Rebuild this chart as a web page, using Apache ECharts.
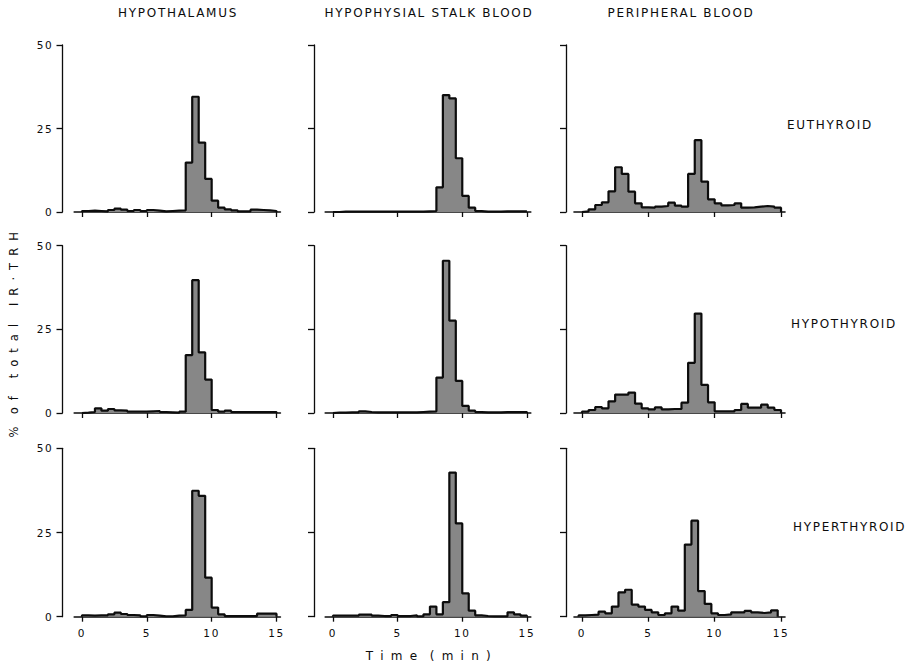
<!DOCTYPE html>
<html>
<head>
<meta charset="utf-8">
<script src="https://cdn.jsdelivr.net/npm/echarts@6/dist/echarts.min.js"></script>
<style>
  html, body { margin: 0; padding: 0; background: #ffffff; }
  #chart { width: 906px; height: 664px; }
  /* wide tracking for every label of the figure */
  #chart svg text { letter-spacing: 1.7px; }
</style>
</head>
<body>
<div id="chart"></div>
<script>
// Column and row headings
const columnTitles = ['HYPOTHALAMUS', 'HYPOPHYSIAL STALK BLOOD', 'PERIPHERAL BLOOD'];
const rowTitles = ['EUTHYROID', 'HYPOTHYROID', 'HYPERTHYROID'];

// Axis ticks
const timeTicks = [0, 5, 10, 15];
const percentTicks = [0, 25, 50];

// Elution profiles: % of total IR-TRH per 0.5-min fraction, 0 to 15 min
const hypothalamusEu   = [0.3, 0.4, 0.3, 0.2, 0.6, 1.0, 0.7, 0.3, 0.6, 0.3, 0.6, 0.4, 0.2, 0.3, 0.4, 0.5, 14.8, 34.5, 20.8, 9.9, 3.4, 1.3, 0.8, 0.5, 0.2, 0.2, 0.7, 0.6, 0.5, 0.3];
const stalkBloodEu     = [0.0, 0.1, 0.1, 0.1, 0.1, 0.1, 0.1, 0.1, 0.1, 0.1, 0.1, 0.1, 0.1, 0.1, 0.2, 0.3, 7.4, 35.0, 34.0, 16.1, 4.8, 1.3, 0.3, 0.1, 0.1, 0.1, 0.2, 0.2, 0.2, 0.2];
const peripheralEu     = [0.2, 0.8, 2.1, 2.9, 6.2, 13.4, 11.4, 6.1, 2.6, 1.4, 1.3, 1.6, 1.8, 2.8, 1.9, 1.6, 11.4, 21.5, 9.1, 3.8, 2.6, 2.0, 2.1, 2.6, 1.3, 1.4, 1.6, 1.8, 1.6, 1.3];

const hypothalamusHypo = [0.1, 0.3, 1.4, 0.7, 1.2, 0.8, 0.7, 0.4, 0.4, 0.4, 0.5, 0.6, 0.3, 0.2, 0.1, 0.4, 17.3, 39.7, 18.1, 10.0, 0.9, 0.4, 0.7, 0.3, 0.3, 0.3, 0.3, 0.3, 0.3, 0.3];
const stalkBloodHypo   = [0.1, 0.1, 0.2, 0.2, 0.5, 0.3, 0.2, 0.2, 0.2, 0.2, 0.2, 0.2, 0.2, 0.3, 0.4, 0.5, 10.6, 45.5, 27.6, 9.6, 2.1, 0.7, 0.3, 0.2, 0.2, 0.2, 0.3, 0.3, 0.3, 0.3];
const peripheralHypo   = [0.4, 0.9, 1.8, 1.4, 3.5, 5.5, 5.5, 6.1, 2.8, 1.4, 1.1, 1.7, 1.1, 1.2, 1.2, 3.1, 15.0, 29.7, 8.4, 3.2, 0.5, 0.5, 0.5, 0.9, 2.7, 1.6, 1.6, 2.5, 1.6, 0.9];

const hypothalamusHyper = [0.4, 0.3, 0.4, 0.4, 0.7, 1.2, 0.8, 0.5, 0.4, 0.1, 0.5, 0.3, 0.1, 0.1, 0.3, 0.4, 2.0, 37.4, 35.9, 11.6, 2.7, 0.7, 0.2, 0.2, 0.2, 0.2, 0.2, 0.9, 0.9, 0.9];
const stalkBloodHyper   = [0.3, 0.3, 0.3, 0.3, 0.6, 0.6, 0.3, 0.2, 0.2, 0.5, 0.2, 0.2, 0.4, 0.1, 0.7, 3.0, 0.7, 4.3, 42.8, 27.7, 6.9, 1.8, 0.4, 0.2, 0.1, 0.1, 0.1, 1.3, 0.7, 0.3];
const peripheralHyper   = [0.4, 0.5, 0.6, 1.5, 1.0, 3.0, 7.2, 8.0, 3.6, 3.0, 2.0, 1.3, 0.5, 1.0, 3.0, 1.8, 21.4, 28.5, 7.6, 3.8, 1.0, 0.5, 0.7, 1.3, 1.3, 1.7, 1.3, 1.1, 1.3, 1.9];

// Fraction width (min) and where the first fraction begins in each panel
const binWidth = 0.5;
const binStart = [
  [0, 0, 0],
  [0, 0, 0],
  [0, 0, -0.25]
];

const panels = [
  [hypothalamusEu, stalkBloodEu, peripheralEu],
  [hypothalamusHypo, stalkBloodHypo, peripheralHypo],
  [hypothalamusHyper, stalkBloodHyper, peripheralHyper]
];

// Panel geometry (px)
const colBox = [
  { left: 74.2, width: 206.2, axisX: 62.5 },
  { left: 325.2, width: 205.6, axisX: 314 },
  { left: 574.0, width: 211.0, axisX: 566 }
];
const rowBox = [
  { top: 45.0, height: 167.0 },
  { top: 245.7, height: 167.3 },
  { top: 448.3, height: 168.4 }
];

const ink = '#0c0c0c';
const barFill = '#878787';
const fontFamily = '"DejaVu Sans", "Liberation Sans", sans-serif';

// Outline of a histogram as step points: rise at the first edge, drop at the last
function histogramPoints(values, start) {
  const pts = [[start, 0]];
  values.forEach((v, i) => pts.push([start + i * binWidth, v]));
  const end = start + values.length * binWidth;
  pts.push([end, values[values.length - 1]]);
  pts.push([end, 0]);
  return pts;
}

const grid = [], xAxis = [], yAxis = [], series = [];
for (let r = 0; r < 3; r++) {
  for (let c = 0; c < 3; c++) {
    const k = r * 3 + c;
    const cb = colBox[c], rb = rowBox[r];
    grid.push({ left: cb.left, top: rb.top, width: cb.width, height: rb.height, containLabel: false });
    xAxis.push({
      type: 'value', gridIndex: k, min: -0.6, max: 15.3,
      axisLine: { show: true, onZero: false, lineStyle: { color: ink, width: 1.6 } },
      axisTick: { show: true, customValues: timeTicks, length: 5, lineStyle: { color: ink, width: 1.3 } },
      axisLabel: {
        show: r === 2, customValues: timeTicks, margin: 11,
        color: ink, fontSize: 10.5, fontFamily: fontFamily
      },
      splitLine: { show: false }
    });
    yAxis.push({
      type: 'value', gridIndex: k, min: percentTicks[0], max: percentTicks[2], interval: 25,
      offset: cb.left - cb.axisX,
      axisLine: { show: true, onZero: false, lineStyle: { color: ink, width: 1.3 } },
      axisTick: { show: true, length: 6, lineStyle: { color: ink, width: 1.3 } },
      axisLabel: { show: c === 0, margin: 9, color: ink, fontSize: 10.5, fontFamily: fontFamily },
      splitLine: { show: false }
    });
    series.push({
      type: 'line', xAxisIndex: k, yAxisIndex: k,
      step: 'end', symbol: 'none', showSymbol: false,
      data: histogramPoints(panels[r][c], binStart[r][c]),
      lineStyle: { color: ink, width: 2.2 },
      areaStyle: { color: barFill, opacity: 1 },
      silent: true, animation: false
    });
  }
}

const colCenters = [178, 429, 681];
const rowLabelPos = [{ x: 787, y: 125 }, { x: 791, y: 324 }, { x: 793, y: 527 }];

const graphic = [];
columnTitles.forEach((t, i) => graphic.push({
  type: 'text', x: colCenters[i], y: 13,
  style: { text: t, fill: ink, font: '12px ' + fontFamily, textAlign: 'center', textVerticalAlign: 'middle' }
}));
rowTitles.forEach((t, i) => graphic.push({
  type: 'text', x: rowLabelPos[i].x, y: rowLabelPos[i].y,
  style: { text: t, fill: ink, font: '12px ' + fontFamily, textAlign: 'left', textVerticalAlign: 'middle' }
}));
graphic.push({
  type: 'text', x: 14, y: 334, rotation: Math.PI / 2,
  style: { text: '%  o f   t o t a l   I R · T R H', fill: ink, font: '11.5px ' + fontFamily, textAlign: 'center', textVerticalAlign: 'middle' }
});
graphic.push({
  type: 'text', x: 429, y: 656,
  style: { text: 'T i m e  ( m i n )', fill: ink, font: '12px ' + fontFamily, textAlign: 'center', textVerticalAlign: 'middle' }
});

const chart = echarts.init(document.getElementById('chart'), null, { renderer: 'svg' });
chart.setOption({
  backgroundColor: '#ffffff',
  animation: false,
  grid, xAxis, yAxis, series, graphic
});
</script>
</body>
</html>
